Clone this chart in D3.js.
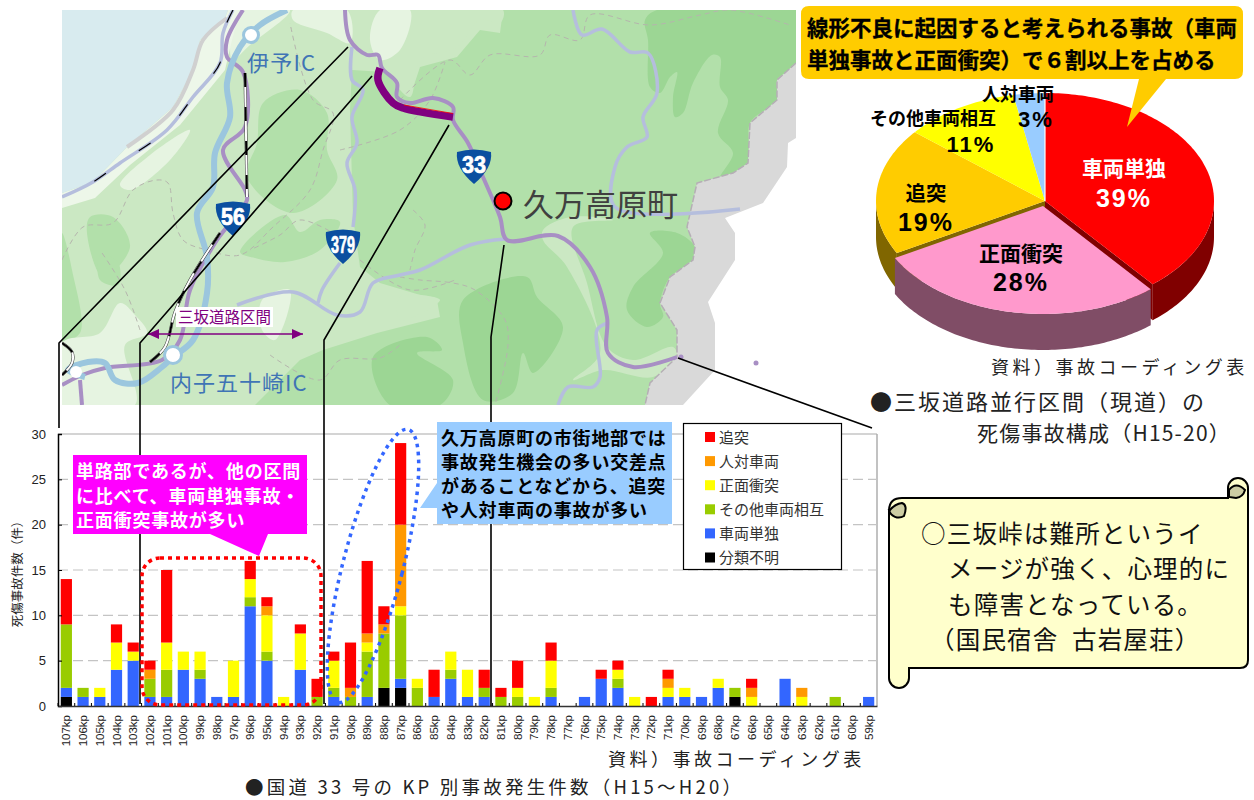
<!DOCTYPE html>
<html lang="ja">
<head>
<meta charset="utf-8">
<script src="https://cdn.jsdelivr.net/npm/d3@7"></script>
<style>
  html, body { margin: 0; padding: 0; background: #fff; }
  svg { display: block; }
  text { font-family: "Noto Sans CJK JP", "Noto Sans", sans-serif; }
  .latin { font-family: "Liberation Sans", sans-serif; }
</style>
</head>
<body>
<div id="chart"></div>
<script>
// bar chart data, stacked from the bottom
const categories = ["107kp","106kp","105kp","104kp","103kp","102kp","101kp","100kp","99kp","98kp","97kp","96kp","95kp","94kp","93kp","92kp","91kp","90kp","89kp","88kp","87kp","86kp","85kp","84kp","83kp","82kp","81kp","80kp","79kp","78kp","77kp","76kp","75kp","74kp","73kp","72kp","71kp","70kp","69kp","68kp","67kp","66kp","65kp","64kp","63kp","62kp","61kp","60kp","59kp"];
const unknown   = [1,0,0,0,0,0,0,0,0,0,0,0,0,0,0,0,0,0,0,2,2,0,0,0,0,0,0,0,0,0,0,0,0,0,0,0,0,0,0,0,1,0,0,0,0,0,0,0,0];
const single    = [1,1,1,4,5,1,1,4,3,1,1,11,5,0,4,0,1,0,1,0,1,0,1,3,1,1,0,0,0,1,0,1,3,2,0,0,1,1,1,2,0,0,0,3,0,0,0,0,1];
const otherCars = [7,1,0,0,0,2,3,0,1,0,0,1,1,0,0,1,1,1,5,6,7,2,0,1,0,1,1,1,0,1,0,0,0,1,0,0,0,0,0,0,1,0,0,0,0,0,1,0,0];
const headOn    = [0,0,1,3,1,0,3,2,2,0,4,2,4,1,4,0,3,0,1,0,1,1,0,2,3,0,0,1,1,3,0,0,0,1,1,0,1,1,0,1,0,1,0,0,1,0,0,0,0];
const pedestrian= [0,0,0,0,0,1,0,0,0,0,0,0,1,0,0,0,0,1,1,1,9,0,0,0,0,0,0,0,0,0,0,0,0,0,0,0,1,0,0,0,0,1,0,0,1,0,0,0,0];
const rearEnd   = [5,0,0,2,1,1,8,0,0,0,0,2,1,0,1,2,1,5,8,2,9,0,3,0,0,2,1,3,0,2,0,0,1,1,0,1,1,0,0,0,0,1,0,0,0,0,0,0,0];
const yTicks = [0,5,10,15,20,25,30];

const stackKeys = ["unknown","single","otherCars","headOn","pedestrian","rearEnd"];
const barColors = { unknown:"#000000", single:"#3366ff", otherCars:"#99cc00", headOn:"#ffff00", pedestrian:"#ff9900", rearEnd:"#ff0000" };
const legendKeys = ["rearEnd","pedestrian","headOn","otherCars","single","unknown"];
const legendLabels = ["追突","人対車両","正面衝突","その他車両相互","車両単独","分類不明"];

// pie data, clockwise from 12 o'clock
const pieNames  = ["車両単独","正面衝突","追突","その他車両相互","人対車両"];
const pieValues = [39,28,19,11,3];
const pieTops   = ["#ff0000","#ff99cc","#ffcc00","#ffff00","#99ccff"];
const pieSides  = ["#800000","#804d66","#806600","#808000","#4d6680"];

// map outlines in map units
const seaOutline = [[62,10],[228,10],[225,18],[200,40],[193,70],[173,107],[127,147],[93,182],[62,193]];
const shorePale = [[62,193],[93,182],[127,147],[173,107],[193,70],[200,40],[225,18],[228,10],[240,10],[232,40],[225,70],[180,125],[130,165],[95,198],[62,208]];
const midGreen = [[503,10],[500,33],[480,30],[457,57],[420,67],[410,97],[385,72],[352,70],[350,110],[353,217],[360,267],[380,283],[437,300],[440,317],[377,333],[323,350],[300,360],[255,405],[796,405],[796,10]];
const midBlobs = [
  [[263,103],[300,90],[327,113],[327,150],[337,180],[293,213],[247,177],[257,143]],
  [[240,252],[285,215],[300,232],[320,220],[340,222],[320,250],[285,262],[255,258]],
  [[90,217],[113,217],[130,247],[103,277],[87,233]],
  [[62,233],[72,270],[80,333],[62,340]],
  [[100,255],[118,262],[118,285],[100,280]]
];
const darkBlobs = [
  [[645,20],[657,10],[796,10],[796,63],[777,80],[777,100],[750,123],[748,163],[730,177],[720,178],[733,153],[718,133],[728,100],[720,87],[720,57],[712,55],[693,83],[683,113],[675,117],[673,97],[677,72],[670,77],[660,93],[650,87],[648,40]],
  [[650,233],[677,233],[695,247],[693,260],[670,277],[660,303],[663,317],[647,327],[627,310],[633,287],[663,253]],
  [[463,300],[527,277],[537,297],[563,327],[533,373],[523,353],[513,393],[483,400],[463,343]],
  [[373,357],[427,337],[442,350],[417,353],[453,380],[440,405],[390,405]]
];
const paleBand = [[543,230],[570,217],[613,220],[573,227],[587,283],[607,347],[633,360],[673,347],[677,357],[653,377],[603,370],[573,380],[600,353],[567,267],[543,240]];
const paleBits = [
  [[400,297],[440,300],[400,320]],
  [[400,10],[503,10],[500,23],[480,20],[457,47],[420,60],[410,97],[385,72],[370,60],[385,10]]
];
const veryPale = [
  [[120,303],[135,315],[147,333],[125,345],[135,405],[62,405],[62,343],[100,333]],
  [[293,10],[347,10],[350,43],[327,33],[293,20]],
  [[380,10],[410,10],[400,50],[380,60],[370,40]],
  [[240,10],[290,10],[250,45],[232,60]],
  [[120,185],[150,155],[190,130],[170,160],[130,190]],
  [[262,300],[290,290],[275,340],[262,330]]
];
const grayInner = [[796,63],[777,80],[777,100],[750,123],[748,163],[733,173],[697,183],[687,227],[695,247],[693,260],[670,277],[660,303],[677,330],[677,357],[650,383],[645,405]];
const whiteOuter = [[796,138],[788,143],[787,167],[763,203],[725,218],[735,233],[735,260],[708,302],[715,323],[715,370],[683,405]];
const coastGray = [[227,18],[203,40],[193,70],[173,110],[127,147]];
const coastRoad = [[233,10],[223,33],[220,63],[193,97],[167,130],[120,163],[93,182],[62,197]];
const roadsLight = [
  [[352,47],[352,80],[363,90],[352,117],[357,143],[347,163],[355,190],[353,227]],
  [[340,263],[322,290],[318,303]],
  [[237,305],[293,292],[337,315],[360,312],[373,283],[400,275],[420,270],[470,245],[505,239]],
  [[573,10],[582,35],[602,29],[630,52],[648,53],[657,93],[643,117],[647,137],[627,147],[615,167],[615,207],[740,209]],
  [[608,323],[597,330],[600,377],[593,387],[568,387],[558,405]]
];
const route33 = [[345,10],[350,40],[367,55],[378,55],[382,68],[397,83],[397,97],[410,103],[433,98],[453,107],[453,120],[468,143],[483,177],[500,217],[507,240],[558,236],[590,267],[607,317],[608,353],[633,367],[677,357]];
const route56 = [[243,10],[227,40],[227,57],[243,72],[245,127],[223,150],[245,190],[247,200],[217,240],[190,290],[180,340],[162,360],[105,368],[82,375],[62,385]];
const routeBranch = [[80,380],[82,405]];
const misakaSection = [[380,68],[378,80],[393,103],[403,108],[453,117]];
const misakaEdge = [[404,105],[453,113.5]];
const expressway = [[287,10],[260,25],[240,47],[227,83],[230,117],[215,153],[213,187],[197,213],[207,257],[207,293],[193,340],[173,357],[162,367],[138,383],[115,380],[105,363],[88,362],[68,370],[85,377]];
const railNorth = [[245,73],[247,197]];
const railSouth = [[220,233],[190,280],[175,312],[165,347],[150,362]];
const railWest = [[62,343],[72,352],[72,363],[62,375]];
const dashedBorders = [
  [[62,260],[83,227],[113,223],[133,190],[157,180],[168,183],[173,213],[183,240],[207,250],[240,255],[273,227],[310,190],[323,150],[333,113],[313,100],[290,23]],
  [[345,240],[300,220],[280,235],[250,250]],
  [[400,100],[450,60],[470,75],[490,55],[540,55],[550,35],[580,40],[590,15],[650,25],[700,15],[730,10],[790,25]],
  [[340,150],[400,130],[430,100],[445,62]],
  [[400,277],[420,280],[453,283],[475,290],[505,320],[508,345],[495,405]],
  [[413,210],[425,225],[415,250],[410,270]],
  [[140,330],[125,290],[100,250]],
  [[360,260],[410,290],[455,280]],
  [[270,355],[320,380],[340,360],[380,358],[400,345]]
];

// leader lines from the map down to the chart
const leaderLines = [
  [[348,47],[59,343],[59,428]],
  [[372,76],[140,343],[140,704]],
  [[449,125],[324,340],[324,704]],
  [[504,245],[491,337],[491,706]],
  [[678,358],[872,428]]
];

const width = 1254;
const height = 800;

const svg = d3.select("#chart").append("svg")
  .attr("width", width)
  .attr("height", height);

// ---------- map ----------
const mapX = d3.scaleLinear().domain([62, 796]).range([62, 796]);
const mapY = d3.scaleLinear().domain([10, 405]).range([10, 405]);
const mapLine = d3.line().x(d => mapX(d[0])).y(d => mapY(d[1])).curve(d3.curveCatmullRom.alpha(0.5));
const mapPoly = d3.line().x(d => mapX(d[0])).y(d => mapY(d[1])).curve(d3.curveCatmullRomClosed.alpha(0.5));
const mapFlat = d3.line().x(d => mapX(d[0])).y(d => mapY(d[1]));

svg.append("clipPath").attr("id", "mapClip").append("rect")
  .attr("x", 62).attr("y", 10).attr("width", 734).attr("height", 395);
const map = svg.append("g").attr("clip-path", "url(#mapClip)");

map.append("rect").attr("x", 62).attr("y", 10).attr("width", 734).attr("height", 395).attr("fill", "#cbe8c3");
map.append("path").attr("d", mapFlat(midGreen) + "Z").attr("fill", "#b2e0aa");
midBlobs.forEach(b => map.append("path").attr("d", mapPoly(b)).attr("fill", "#b2e0aa"));
paleBits.forEach(b => map.append("path").attr("d", mapPoly(b)).attr("fill", "#cbe8c3"));
darkBlobs.forEach(b => map.append("path").attr("d", mapPoly(b)).attr("fill", "#9cd694"));
map.append("path").attr("d", mapPoly(paleBand)).attr("fill", "#cbe8c3");
veryPale.forEach(b => map.append("path").attr("d", mapPoly(b)).attr("fill", "#e6f4e1"));
map.append("path").attr("d", mapFlat(shorePale) + "Z").attr("fill", "#edf7e9");
map.append("path").attr("d", mapFlat(seaOutline) + "Z").attr("fill", "#d8ebef");

// gray neighbour prefecture and white sea on the right
map.append("path").attr("d", mapFlat(grayInner.concat([[796,405]])) + "Z").attr("fill", "#d9d9d9");
map.append("path").attr("d", mapFlat(whiteOuter.concat([[796,405]])) + "Z").attr("fill", "#ffffff");
map.append("path").attr("d", mapFlat(grayInner)).attr("fill", "none")
  .attr("stroke", "#b5aeb5").attr("stroke-width", 1.5).attr("stroke-dasharray", "7 2");

dashedBorders.forEach(b => map.append("path").attr("d", mapLine(b)).attr("fill", "none")
  .attr("stroke", "#b5b5ad").attr("stroke-width", 1).attr("stroke-dasharray", "5 4"));

map.append("path").attr("d", mapLine(coastGray)).attr("fill", "none").attr("stroke", "#d0d0d0").attr("stroke-width", 4);
map.append("path").attr("d", mapLine(coastRoad)).attr("fill", "none").attr("stroke", "#b5bedd").attr("stroke-width", 3.5);
map.append("path").attr("d", mapLine(coastRoad)).attr("fill", "none").attr("stroke", "#000").attr("stroke-width", 1.2).attr("stroke-dasharray", "14 40");

roadsLight.forEach(r => map.append("path").attr("d", mapLine(r)).attr("fill", "none")
  .attr("stroke", "#b5bedd").attr("stroke-width", 3.5).attr("stroke-linejoin", "round"));
[route33, route56, routeBranch].forEach(r => map.append("path").attr("d", mapLine(r)).attr("fill", "none")
  .attr("stroke", "#a88fc4").attr("stroke-width", 4).attr("stroke-linejoin", "round"));

map.append("path").attr("d", mapLine(expressway)).attr("fill", "none")
  .attr("stroke", "#9bc6de").attr("stroke-width", 6);

[railNorth, railSouth, railWest].forEach(r => {
  map.append("path").attr("d", mapLine(r)).attr("fill", "none").attr("stroke", "#333").attr("stroke-width", 3);
  map.append("path").attr("d", mapLine(r)).attr("fill", "none").attr("stroke", "#fff").attr("stroke-width", 2);
  map.append("path").attr("d", mapLine(r)).attr("fill", "none").attr("stroke", "#000").attr("stroke-width", 2).attr("stroke-dasharray", "14 20");
});

map.append("path").attr("d", mapLine(misakaSection)).attr("fill", "none").attr("stroke", "#800080").attr("stroke-width", 7.5);
map.append("path").attr("d", mapFlat(misakaEdge)).attr("fill", "none").attr("stroke", "#ff0000").attr("stroke-width", 0.8);

map.append("circle").attr("cx", mapX(76)).attr("cy", mapY(372)).attr("r", 6).attr("fill", "#fff");
[[251, 35, 7.5], [173, 355, 8.5]].forEach(c => map.append("circle")
  .attr("cx", mapX(c[0])).attr("cy", mapY(c[1])).attr("r", c[2])
  .attr("fill", "#fff").attr("stroke", "#9bc6de").attr("stroke-width", 3));

[[681, 357], [756, 363]].forEach(c => map.append("circle")
  .attr("cx", mapX(c[0])).attr("cy", mapY(c[1])).attr("r", 2.5).attr("fill", "#a88fc4"));

// route shields
function shield(x, y, label) {
  const g = map.append("g").attr("transform", `translate(${mapX(x)},${mapY(y)})`);
  const h = 17;
  const p = d3.path();
  p.moveTo(-h, -13);
  p.quadraticCurveTo(0, -18, h, -13);
  p.quadraticCurveTo(h + 2, 3, 0, 19);
  p.quadraticCurveTo(-h - 2, 3, -h, -13);
  g.append("path").attr("d", p.toString()).attr("fill", "#0b4fa0");
  g.append("text").attr("class", "latin").attr("text-anchor", "middle").attr("y", 8)
    .attr("fill", "#fff").attr("stroke", "#fff").attr("stroke-width", 0.7)
    .attr("font-weight", "bold").attr("font-size", 23)
    .attr("textLength", 24).attr("lengthAdjust", "spacingAndGlyphs")
    .text(label);
}
shield(233, 217, "56");
shield(343, 245, "379");
shield(474, 165, "33");

map.append("circle").attr("cx", mapX(503)).attr("cy", mapY(201)).attr("r", 8.5)
  .attr("fill", "#ff0000").attr("stroke", "#000").attr("stroke-width", 2);

function label(parent, x, y, str, size, opts) {
  const o = opts || {};
  const t = parent.append("text")
    .attr("x", x).attr("y", y)
    .attr("font-size", size)
    .attr("fill", o.fill || "#222")
    .attr("font-weight", o.weight || "normal")
    .attr("text-anchor", o.anchor || "start")
    .text(str);
  if (o.spacing != null) t.attr("letter-spacing", o.spacing);
  if (o.latin) t.attr("class", "latin");
  if (o.heavy) t.attr("stroke", o.fill || "#222").attr("stroke-width", o.heavy);
  return t;
}

label(map, 523, 216, "久万高原町", 31, { fill: "#404040" });
label(map, 247, 71, "伊予IC", 22, { fill: "#3f74b5", spacing: 1.2 });
label(map, 170, 391, "内子五十崎IC", 22, { fill: "#3f74b5", spacing: 1 });

map.append("rect").attr("x", 176).attr("y", 307).attr("width", 97).attr("height", 20).attr("fill", "#fff");
label(map, 178, 323, "三坂道路区間", 15.5, { fill: "#800080" });

const arrowScale = d3.scaleLinear().domain([0, 1]).range([148, 303]);
map.append("line").attr("x1", arrowScale(0)).attr("x2", arrowScale(1)).attr("y1", 334).attr("y2", 334)
  .attr("stroke", "#800080").attr("stroke-width", 1.5);
[[arrowScale(0), 1], [arrowScale(1), -1]].forEach(a => map.append("path")
  .attr("d", `M${a[0]},334l${a[1] * 11},-5v10Z`).attr("fill", "#800080"));

// ---------- bar chart ----------
const plot = { left: 58, right: 877, top: 434, bottom: 706 };
const rows = categories.map((c, i) => ({
  kp: c,
  unknown: unknown[i], single: single[i], otherCars: otherCars[i],
  headOn: headOn[i], pedestrian: pedestrian[i], rearEnd: rearEnd[i]
}));
const xScale = d3.scaleBand().domain(categories).range([plot.left, plot.right]).paddingInner(0.33).paddingOuter(0.165);
const yScale = d3.scaleLinear().domain([0, 30]).range([plot.bottom, plot.top]);
const chart = svg.append("g");

chart.append("line").attr("x1", plot.right).attr("x2", plot.right).attr("y1", plot.top).attr("y2", plot.bottom)
  .attr("stroke", "#999").attr("stroke-width", 1.2);
chart.selectAll(".grid").data(yTicks.filter(t => t > 0)).enter().append("line")
  .attr("x1", plot.left).attr("x2", plot.right)
  .attr("y1", d => yScale(d)).attr("y2", d => yScale(d))
  .attr("stroke", d => d === 30 ? "#aaa" : "#c4c4c4")
  .attr("stroke-width", 1.2)
  .attr("stroke-dasharray", d => d === 30 ? null : "10 5");

chart.selectAll(".layer").data(d3.stack().keys(stackKeys)(rows)).enter().append("g")
  .attr("fill", d => barColors[d.key])
  .selectAll("rect").data(d => d).enter().append("rect")
  .attr("x", d => xScale(d.data.kp))
  .attr("width", xScale.bandwidth())
  .attr("y", d => yScale(d[1]))
  .attr("height", d => yScale(d[0]) - yScale(d[1]));

const yAxisGroup = chart.append("g").attr("transform", `translate(${plot.left},0)`)
  .call(d3.axisLeft(yScale).tickValues(yTicks).tickSize(-4).tickPadding(12));
yAxisGroup.select(".domain").attr("stroke", "#000").attr("stroke-width", 1.5);
yAxisGroup.selectAll("text").attr("font-size", 13).attr("fill", "#222").attr("class", "latin");

const xAxisGroup = chart.append("g").attr("transform", `translate(0,${plot.bottom})`)
  .call(d3.axisBottom(xScale).tickSize(0).tickPadding(0));
xAxisGroup.select(".domain").attr("stroke", "#333").attr("stroke-width", 1.5);
xAxisGroup.selectAll("text")
  .attr("class", "latin")
  .attr("font-size", 11.5).attr("fill", "#222")
  .attr("transform", "rotate(-90)")
  .attr("text-anchor", "end")
  .attr("x", -9).attr("y", 0).attr("dy", "0.35em");
// tick marks sit between the categories, pointing up
chart.selectAll(".xtick").data(categories).enter().append("line")
  .attr("x1", d => xScale(d) - xScale.step() * 0.165)
  .attr("x2", d => xScale(d) - xScale.step() * 0.165)
  .attr("y1", plot.bottom).attr("y2", plot.bottom - 3)
  .attr("stroke", "#000");

label(chart, 0, 0, "死傷事故件数（件）", 12.5, { anchor: "middle", fill: "#222" })
  .attr("transform", `translate(22,${yScale(14.9)}) rotate(-90)`);

// leader lines
leaderLines.forEach(l => svg.append("path").attr("d", mapFlat(l)).attr("fill", "none")
  .attr("stroke", "#000").attr("stroke-width", 1.6));

// legend
const legend = svg.append("g");
legend.append("rect").attr("x", 683.5).attr("y", 423.5).attr("width", 158).attr("height", 146)
  .attr("fill", "#fff").attr("stroke", "#000").attr("stroke-width", 1.2);
const legendY = d3.scalePoint().domain(legendKeys).range([437, 557.5]);
legendKeys.forEach((k, i) => {
  legend.append("rect").attr("x", 705).attr("y", legendY(k) - 5).attr("width", 10).attr("height", 10).attr("fill", barColors[k]);
  label(legend, 719, legendY(k) + 5.5, legendLabels[i], 15, { fill: "#333" });
});

// callouts over the chart
svg.append("rect").attr("x", 142).attr("y", 558).attr("width", 179).attr("height", 147).attr("rx", 18)
  .attr("fill", "none").attr("stroke", "#ff0000").attr("stroke-width", 3.5).attr("stroke-dasharray", "4 4");
svg.append("ellipse").attr("cx", 0).attr("cy", 0).attr("rx", 30).attr("ry", 141)
  .attr("transform", "translate(373,566) rotate(14.5)")
  .attr("fill", "none").attr("stroke", "#3366ff").attr("stroke-width", 3.5).attr("stroke-dasharray", "3.5 4.5");

svg.append("path").attr("d", "M73,455H307V534H268L259,556L210,534H73Z").attr("fill", "#ff00ff");
["単路部であるが、他の区間", "に比べて、車両単独事故・", "正面衝突事故が多い"].forEach((s, i) =>
  label(svg, 76, 478 + i * 24.5, s, 18, { fill: "#fff", weight: "bold", spacing: 0.8 }));

svg.append("path").attr("d", "M437,422H672V524H437V508H420L437,483Z").attr("fill", "#99ccff");
["久万高原町の市街地部では", "事故発生機会の多い交差点", "があることなどから、追突", "や人対車両の事故が多い"].forEach((s, i) =>
  label(svg, 441, 445 + i * 24, s, 18, { fill: "#000", weight: "bold", spacing: 0.8 }));

label(svg, 608, 766, "資料）事故コーディング表", 18, { spacing: 3.5 });
label(svg, 245, 794, "●国道 33 号の KP 別事故発生件数（H15〜H20）", 18.5, { spacing: 3.2 });

// ---------- 3D pie ----------
const pieCenter = { x: 1045, y: 201 };
const rx = 169, ry = 108, depth = 36;
const pieData = d3.pie().sort(null)(pieValues);
const pieG = svg.append("g");

function rim(a) {
  return [rx * Math.sin(a), -ry * Math.cos(a)];
}
const pieLine = d3.line();
// only the pink slice is pulled out
function sliceOffset(i) {
  return i === 1 ? [-2, 5] : [0, 0];
}
function topPath(d) {
  const pts = [[0, 0]].concat(d3.range(d.startAngle, d.endAngle, 0.02).map(rim), [rim(d.endAngle)]);
  return pieLine(pts) + "Z";
}
function sidePath(d) {
  const a0 = Math.max(d.startAngle, Math.PI / 2);
  const a1 = Math.min(d.endAngle, Math.PI * 1.5);
  if (a1 <= a0) return null;
  const upper = d3.range(a0, a1, 0.02).map(rim).concat([rim(a1)]);
  const lower = upper.slice().reverse().map(p => [p[0], p[1] + depth]);
  return pieLine(upper.concat(lower)) + "Z";
}
function cutWall(a) {
  const e = rim(a);
  return pieLine([[0, 0], e, [e[0], e[1] + depth], [0, depth]]) + "Z";
}
function drawSlice(i) {
  const d = pieData[i];
  const off = sliceOffset(i);
  const g = pieG.append("g").attr("transform", `translate(${pieCenter.x + off[0]},${pieCenter.y + off[1]})`);
  const side = sidePath(d);
  if (side) g.append("path").attr("d", side).attr("fill", pieSides[i]);
  g.append("path").attr("d", topPath(d)).attr("fill", pieTops[i]);
}
[2, 0].forEach(i => {
  const d = pieData[i];
  const g = pieG.append("g").attr("transform", `translate(${pieCenter.x},${pieCenter.y})`);
  const a = i === 2 ? d.startAngle : d.endAngle;
  g.append("path").attr("d", cutWall(a)).attr("fill", pieSides[i]);
});
[0, 2, 3, 4, 1].forEach(drawSlice);
pieG.append("line").attr("x1", pieCenter.x).attr("x2", pieCenter.x)
  .attr("y1", pieCenter.y - ry).attr("y2", pieCenter.y).attr("stroke", "#fff").attr("stroke-width", 1.2);

const pieLabels = [
  { cx: 1124, ny: 176, nSize: 21, px: 1124, py: 207, pSize: 25, fill: "#fff" },
  { cx: 1021, ny: 261, nSize: 21, px: 1021, py: 291, pSize: 25, fill: "#000" },
  { cx: 926, ny: 201, nSize: 20.5, px: 926, py: 231, pSize: 25, fill: "#000" },
  { cx: 933, ny: 125, nSize: 18, px: 971, py: 152, pSize: 22, fill: "#000" },
  { cx: 1018, ny: 101, nSize: 18, px: 1036, py: 127, pSize: 22, fill: "#000" }
];
pieData.forEach((d, i) => {
  const p = pieLabels[i];
  label(pieG, p.cx, p.ny, pieNames[i], p.nSize, { anchor: "middle", weight: "bold", fill: p.fill });
  label(pieG, p.px, p.py, d.value + "%", p.pSize, { anchor: "middle", weight: "bold", fill: p.fill, latin: true, spacing: 2 });
});

// gold callout
svg.append("path").attr("d", "M809,6H1235Q1243,6 1243,14V71Q1243,79 1235,79H1166L1127,127L1139,79H809Q801,79 801,71V14Q801,6 809,6Z").attr("fill", "#ffcc00");
label(svg, 807, 36, "線形不良に起因すると考えられる事故（車両", 21.5, { weight: "bold", fill: "#000", heavy: 0.3 });
label(svg, 807, 68, "単独事故と正面衝突）で６割以上を占める", 21.5, { weight: "bold", fill: "#000", heavy: 0.3 });

label(svg, 991, 374, "資料）事故コーディング表", 18, { spacing: 3.5 });
label(svg, 870, 410, "●三坂道路並行区間（現道）の", 22, { spacing: 2 });
label(svg, 977, 441, "死傷事故構成（H15-20）", 21, { spacing: 1.2 });

// ---------- scroll note ----------
const scroll = svg.append("g").attr("stroke", "#000").attr("stroke-width", 2);
scroll.append("path").attr("fill", "#ffffcc")
  .attr("d", "M909,498H1228V488A10,10 0 0 1 1248,488V660Q1248,668 1240,668H909V678A10,10 0 0 1 889,678V511Q889,498 902,498Z");
scroll.append("path").attr("fill", "#cdcda3")
  .attr("d", "M1229,497V490Q1236,481 1245,490A11,11 0 0 1 1236,498Z");
scroll.append("path").attr("fill", "#cdcda3")
  .attr("d", "M889,510A10,10 0 0 0 904,516Q908,505 902,503Q895,504 890,510Z");
["○三坂峠は難所というイ", "メージが強く、心理的に", "も障害となっている。", "（国民宿舎\u2002古岩屋荘）"].forEach((s, i) =>
  label(svg, [921, 948, 948, 930][i], [543, 578, 614, 649][i], s, 24.5, { fill: "#111", spacing: 1.2 }));
</script>
</body>
</html>
